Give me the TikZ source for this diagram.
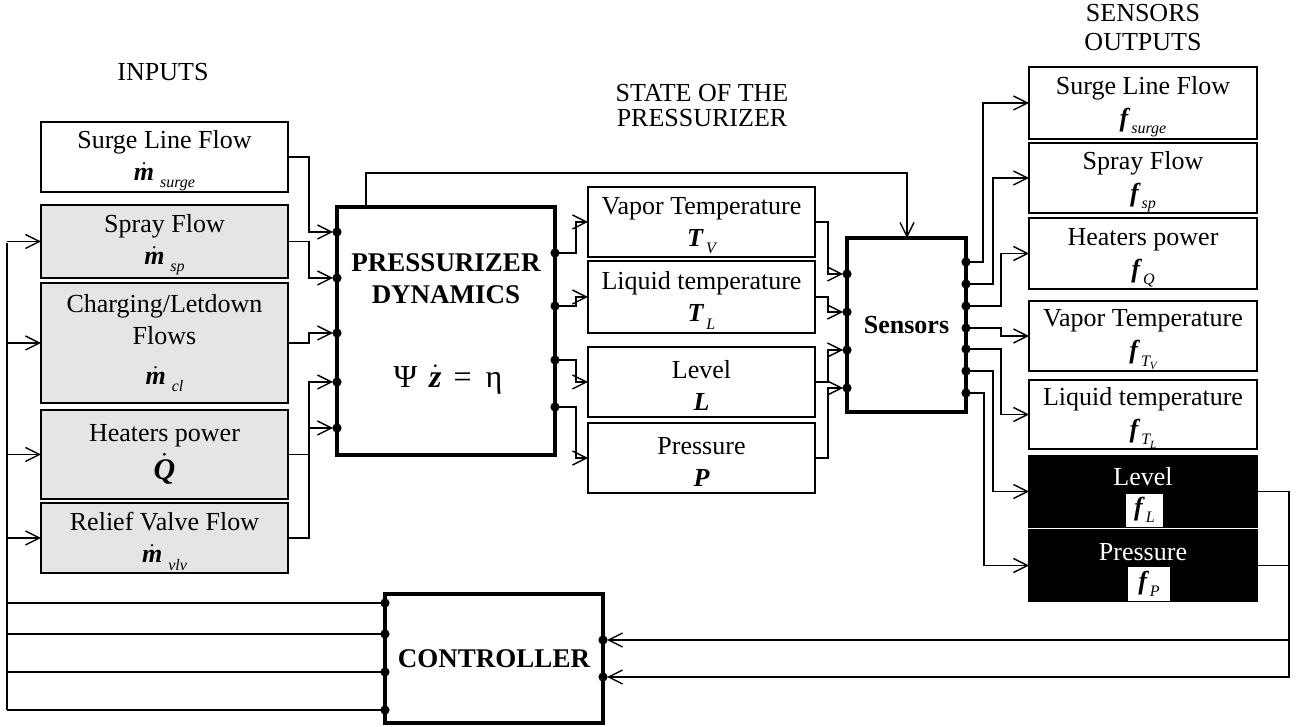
\documentclass[tikz,border=0pt]{standalone}
\usepackage{fontspec}
\setmainfont{Liberation Serif}
\usepackage{amsmath}
\usetikzlibrary{arrows.meta,calc}
\newcommand\md{$\dot{\text{\bfseries\itshape m}}$\hspace{1.5pt}}
\newcommand\sbs[1]{\hspace{1.5pt}\raisebox{-0.6ex}{\fontsize{8}{9}\selectfont\itshape #1}}
\newcommand\ssbs[1]{\raisebox{-0.5ex}{\fontsize{5.5}{6}\selectfont\itshape #1}}
\newcommand\bi[1]{{\bfseries\itshape #1}}
\newcommand\ts{\rule{0pt}{12.5pt}}
\newcommand\bx[7][]{\node[box,#1,anchor=north west,minimum width={(#5-#3)*0.5pt},minimum height={(#6-#4)*0.5pt}] (#2) at (#3,#4) {#7};}
\begin{document}
\begin{tikzpicture}[x=0.5pt,y=-0.5pt,
  box/.style={draw,line width=0.9pt,inner sep=0pt,outer sep=0pt,align=center,font=\fontsize{13}{16}\selectfont},
  gbox/.style={box,fill=gray!20},
  kbox/.style={box,fill=black},
  tbox/.style={box,line width=1.6pt},
  hdr/.style={align=center,inner sep=0pt,font=\fontsize{13}{14.5}\selectfont},
  arr/.style={-{Straight Barb[length=7pt,width=7pt]},line width=0.7pt},
  arrd/.style={arr,shorten >=2pt},
  ln/.style={line width=0.7pt}]
\useasboundingbox (0,0) rectangle (1298,727);

% headers
\node[hdr] (hIn) at (163,72) {INPUTS};
\node[hdr,font=\fontsize{13}{12.5}\selectfont] (hSt) at (702,106) {STATE OF THE\\PRESSURIZER};
\node[hdr] (hSe) at (1143,28) {SENSORS\\OUTPUTS};

% input boxes
\bx{iS}{41}{122}{288}{192}{\ts Surge Line Flow\\\md\sbs{surge}}
\bx[gbox]{iSp}{41}{205}{288}{278}{\ts Spray Flow\\\md\sbs{sp}}
\bx[gbox]{iC}{41}{283}{288}{403}{Charging/Letdown\\Flows\\[4pt]\md\sbs{cl}}
\bx[gbox]{iH}{41}{410}{288}{499}{Heaters power\\[2pt]{\fontsize{15}{16}\selectfont$\dot{\text{\bfseries\itshape Q}}$}}
\bx[gbox]{iR}{41}{503}{288}{573}{\ts Relief Valve Flow\\\md\sbs{vlv}}

% pressurizer
\bx[tbox]{pd}{337}{207}{555}{455}{}
\node[font=\fontsize{13.5}{16}\selectfont\bfseries,align=center] (pdT) at (446,279) {PRESSURIZER\\DYNAMICS};
\node[font=\fontsize{16}{18}\selectfont] (pdE) at (448,380) {Ψ\hspace{6pt}$\dot{\text{\bfseries\itshape z}}$\hspace{6pt}=\hspace{7pt}η};

% state boxes
\bx{sV}{588}{187}{815}{257}{\ts Vapor Temperature\\\bi{T}\sbs{V}}
\bx{sL}{588}{261}{815}{333}{\ts Liquid temperature\\\bi{T}\sbs{L}}
\bx{sLv}{588}{347}{815}{417}{\ts Level\\\bi{L}}
\bx{sP}{588}{423}{815}{493}{\ts Pressure\\\bi{P}}

% sensors
\bx[tbox]{se}{847}{238}{966}{412}{\fontsize{13}{16}\selectfont\bfseries Sensors}

% output boxes
\bx{oS}{1029}{67}{1257}{139}{\ts Surge Line Flow\\\bi{f}\sbs{surge}}
\bx{oSp}{1029}{143}{1257}{213}{\ts Spray Flow\\\bi{f}\sbs{sp}}
\bx{oQ}{1029}{218}{1257}{289}{\ts Heaters power\\\bi{f}\sbs{Q}}
\bx{oV}{1029}{301}{1257}{371}{\ts Vapor Temperature\\\bi{f}\sbs{T\ssbs{V}}}
\bx{oLT}{1029}{380}{1257}{449}{\ts Liquid temperature\\\bi{f}\sbs{T\ssbs{L}}}
\bx[kbox]{oL}{1029}{456}{1257}{527}{}
\bx[kbox]{oP}{1029}{530}{1257}{601}{}
\node[font=\fontsize{13}{16}\selectfont,text=white] (oLt) at (1143,477) {Level};
\node[fill=white,inner sep=0pt,anchor=south,minimum width=18.5pt,minimum height=16.5pt,font=\fontsize{13}{16}\selectfont] (oLs) at (1144.5,527) {\bi{f}\sbs{L}};
\node[font=\fontsize{13}{16}\selectfont,text=white] (oPt) at (1143,552) {Pressure};
\node[fill=white,inner sep=0pt,anchor=south,minimum width=21pt,minimum height=17pt,font=\fontsize{13}{16}\selectfont] (oPs) at (1149,601) {\bi{f}\sbs{P}};

% controller
\bx[tbox]{ct}{385}{594}{603}{723}{\fontsize{13.5}{16}\selectfont\bfseries CONTROLLER}

% ports
\coordinate (p1) at ($(pd.north west)+(0,25)$);
\coordinate (p2) at ($(pd.north west)+(0,71)$);
\coordinate (p3) at ($(pd.north west)+(0,126)$);
\coordinate (p4) at ($(pd.north west)+(0,175)$);
\coordinate (p5) at ($(pd.north west)+(0,221)$);
\coordinate (q1) at ($(pd.north east)+(0,46)$);
\coordinate (q2) at ($(pd.north east)+(0,99)$);
\coordinate (q3) at ($(pd.north east)+(0,153)$);
\coordinate (q4) at ($(pd.north east)+(0,200)$);
\coordinate (s1) at ($(se.north west)+(0,36)$);
\coordinate (s2) at ($(se.north west)+(0,74)$);
\coordinate (s3) at ($(se.north west)+(0,112)$);
\coordinate (s4) at ($(se.north west)+(0,150)$);
\coordinate (o1) at ($(se.north east)+(0,24)$);
\coordinate (o2) at ($(se.north east)+(0,46)$);
\coordinate (o3) at ($(se.north east)+(0,68)$);
\coordinate (o4) at ($(se.north east)+(0,90)$);
\coordinate (o5) at ($(se.north east)+(0,111)$);
\coordinate (o6) at ($(se.north east)+(0,133)$);
\coordinate (o7) at ($(se.north east)+(0,155)$);
\coordinate (c1) at ($(ct.north west)+(0,9)$);
\coordinate (c2) at ($(ct.north west)+(0,40)$);
\coordinate (c3) at ($(ct.north west)+(0,78)$);
\coordinate (c4) at ($(ct.north west)+(0,116)$);
\coordinate (r1) at ($(ct.north east)+(0,46)$);
\coordinate (r2) at ($(ct.north east)+(0,83)$);
\coordinate (busT) at (7,243);
\coordinate (busB) at (7,710);

% inputs -> pressurizer
\draw[arrd] (iS.east) -- ++(21,0) |- (p1);
\draw[arrd] (iSp.east) -- ++(21,0) |- (p2);
\draw[arrd] (iC.east) -- ++(21,0) |- (p3);
\draw[arrd] (iH.east) -- ++(21,0) |- (p4);
\draw[arrd] (iR.east) -- ++(21,0) |- (p5);

% pressurizer -> states
\draw[arr] (q1) -- ++(21,0) |- (sV.west);
\draw[arr] (q2) -- ++(21,0) |- (sL.west);
\draw[arr] (q3) -- ++(21,0) |- (sLv.west);
\draw[arr] (q4) -- ++(21,0) |- (sP.west);

% pressurizer -> sensors (top)
\draw[arr] ([xshift=14.5pt]pd.north west) -- ++(0,-34) -| ([xshift=30pt]se.north west);

% states -> sensors
\draw[arrd] (sV.east) -- ++(13,0) |- (s1);
\draw[arrd] (sL.east) -- ++(13,0) |- (s2);
\draw[arrd] (sLv.east) -- ++(13,0) |- (s3);
\draw[arrd] (sP.east) -- ++(13,0) |- (s4);

% sensors -> outputs
\draw[arr] (o1) -- ++(17,0) |- (oS.west);
\draw[arr] (o2) -- ++(27,0) |- (oSp.west);
\draw[arr] (o3) -- ++(35,0) |- (oQ.west);
\draw[arr] (o4) -- ++(35,0) |- (oV.west);
\draw[arr] (o5) -- ++(35,0) |- (oLT.west);
\draw[arr] (o6) -- ++(27,0) |- (oL.west);
\draw[arr] (o7) -- ++(18,0) |- (oP.west);

% feedback to controller
\draw[arrd] (oL.east) -- ++(32,0) |- (r1);
\draw[arrd] (oP.east) -- ++(32,0) |- (r2);

% controller -> bus -> inputs
\draw[ln] (busT) -- (busB);
\draw[ln] (c1) -- (c1 -| busT);
\draw[ln] (c2) -- (c2 -| busT);
\draw[ln] (c3) -- (c3 -| busT);
\draw[ln] (c4) -- (c4 -| busT);
\draw[arr] (iSp.west -| busT) -- (iSp.west);
\draw[arr] (iC.west -| busT) -- (iC.west);
\draw[arr] (iH.west -| busT) -- (iH.west);
\draw[arr] (iR.west -| busT) -- (iR.west);

% dots
\foreach \p in {p1,p2,p3,p4,p5,q1,q2,q3,q4,s1,s2,s3,s4,o1,o2,o3,o4,o5,o6,o7,c1,c2,c3,c4,r1,r2}
  \fill (\p) circle (2.3pt);
\end{tikzpicture}
\end{document}
